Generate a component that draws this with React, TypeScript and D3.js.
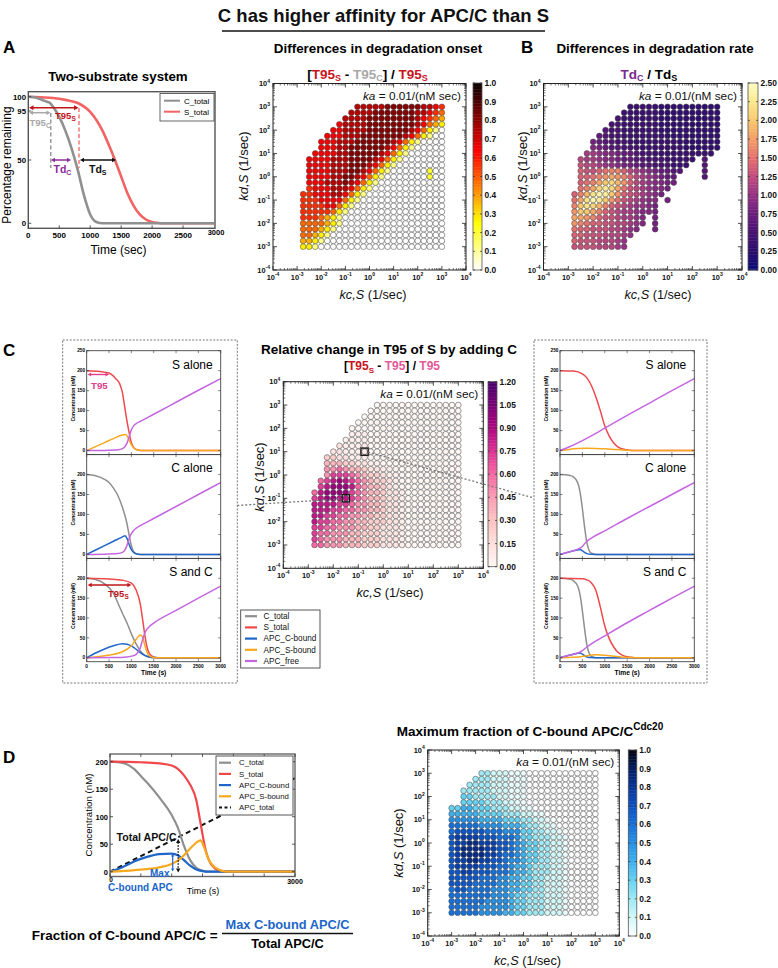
import React from "react";
import * as d3 from "d3";

type Pt = [number, number];

const FONT = "'Liberation Sans', Arial, Helvetica, sans-serif";
const NARROW = "'Liberation Sans Narrow', 'Arial Narrow', 'Liberation Sans', Arial, sans-serif";

// ---------------- grid (log10 of kc,S and kd,S) ----------------
const GRID_LOG10 = [-3, -2.75, -2.5, -2.25, -2, -1.75, -1.5, -1.25, -1, -0.75, -0.5, -0.25, 0, 0.25, 0.5, 0.75, 1, 1.25, 1.5, 1.75, 2, 2.25, 2.5, 2.75, 3];
const DECADES = [-4, -3, -2, -1, 0, 1, 2, 3, 4];
const MINOR_MULT = [2, 3, 4, 5, 6, 7, 8, 9];

// ---------------- Panel A: two-substrate curves ----------------
const A_TIME_TICKS = [0, 500, 1000, 1500, 2000, 2500];
const A_C_TOTAL: Pt[] = [[0, 100], [100, 99.5], [200, 98], [300, 96], [350, 95], [400, 92], [500, 84], [600, 73], [700, 59], [800, 42], [900, 22], [1000, 7], [1100, 1], [1200, 0], [3000, 0]];
const A_S_TOTAL: Pt[] = [[0, 100], [200, 99.5], [400, 99], [600, 97.5], [800, 95], [1000, 88], [1200, 73], [1300, 62], [1400, 50], [1500, 37], [1600, 24], [1700, 14], [1800, 7], [1900, 3], [2000, 1], [2100, 0.3], [2200, 0], [3000, 0]];

// ---------------- Heatmap A: [T95s - T95c]/T95s (rows: kd 10^3 -> 10^-3) ----------------
const A_LEVELS: Record<string, number> = { "0": 0, "1": 0.12, "2": 0.2, "3": 0.28, "4": 0.38, "5": 0.48, "6": 0.57, "7": 0.65, "8": 0.74, "9": 0.82 };
const A_ROWS = [
  "..........888889999998876",
  ".........8888999999988765",
  "........88889999999987654",
  ".......788889999999987543",
  "......7788889999999875310",
  ".....77788899999998753100",
  "....777888999999875310000",
  "....777889999998753100000",
  "...7777889999987531000000",
  "..77778889999875310000000",
  "..77778889998753100000000",
  "..77778889987531000000200",
  "..77778899875310000000200",
  "..77788898753100000000000",
  "..67778887531000000000000",
  ".667778875310000000000000",
  ".666777753100000000000000",
  ".666677531000000000000000",
  ".666665310000000000000000",
  ".666543100000000000000000",
  ".555543100000000000000000",
  ".555431000000000000000000",
  ".554310000000000000000000",
  ".443100000000000000000000",
  ".331000000000000000000000",
];
const A_CB_TICKS = [0, 0.1, 0.2, 0.3, 0.4, 0.5, 0.6, 0.7, 0.8, 0.9, 1.0];

// ---------------- Heatmap B: Tdc/Tds (letter a=0.0 ... z=2.5) ----------------
const B_KEYS = "abcdefghijklmnopqrstuvwxyz";
const B_ROWS = [
  "..........eeeeedddddddddd",
  ".........eeeeeedddddddddd",
  "........feeeeeedddddddddd",
  ".......ffeeeeeedddddddddd",
  "......gffeeeeeedddddddddd",
  ".....hgffeeeeeeeddddddddd",
  "....ihggffeeeeeeeeddddddd",
  "....jihggfffeeeeeeedddddd",
  "...llkjjihhgffeeeeeeeeee.",
  "..mllkjjihhggfffeeeee.g..",
  "..nmmlkkjiihggfffeee..g..",
  "..onnopqqomlkjihhgg...g..",
  "..oopqrsrqomlkjihh....g..",
  "..opqsuvtromlkjjii.......",
  "..pqsvxvspnmlkjji........",
  ".oqtwyxuronmlkji.........",
  ".pswyxurpnmlkjj.i........",
  ".quwvtqonmlkkji..........",
  ".ruusqonmllkjji..........",
  ".ssrqonnmllkj.i..........",
  ".rqpoonnmmlkj.i..........",
  ".poonnnmmlkj..i..........",
  ".oonnnmmmlk..............",
  ".onnnmmmlk...............",
  ".nnnnmmmlk...............",
];
const B_CB_TICKS = [0, 0.25, 0.5, 0.75, 1.0, 1.25, 1.5, 1.75, 2.0, 2.25, 2.5];
const B_STOPS = [0, 0.25, 0.5, 0.75, 1.0, 1.25, 1.5, 1.75, 2.0, 2.25, 2.5];
const B_COLORS = ["#0a0a78", "#2a0c6e", "#461172", "#6a1c7e", "#953085", "#c24a7e", "#e6706e", "#f59c66", "#f8c86c", "#fbe88e", "#fdfcc2"];

// ---------------- Heatmap C: [T95s - T95]/T95 ----------------
const C_LEVELS: Record<string, number> = { "0": 0, a: 0.05, "1": 0.12, "2": 0.24, "3": 0.36, "4": 0.48, "5": 0.6, "6": 0.72, "7": 0.84, "8": 0.96, "9": 1.08 };
const C_ROWS = [
  "...........00000000000000",
  "..........000000000000000",
  ".........0000000000000000",
  "........00000000000000000",
  ".......000000000000000000",
  ".......aaa000000000000000",
  "......aaaa000000000000000",
  ".....1aaaa000000000000000",
  "....11aaaa000000000000000",
  "...2211aaa000000000000000",
  "...3332211aa0000000000000",
  "...445433211aa00000000000",
  "...4666543221aa0000000000",
  "..567876543221a0000000000",
  "..678887543321a0000000000",
  ".57888865433211a000000000",
  ".67887765433211a000000000",
  ".77776654433211a000000000",
  ".77766554433211a000000000",
  ".77665544332211a000000000",
  ".76655443322211a000000000",
  ".66554443322111a000000000",
  ".65544433222111a000000000",
  ".65444333222111a000000000",
  ".55444333222111a000000000",
];
const C_CB_TICKS = [0, 0.15, 0.3, 0.45, 0.6, 0.75, 0.9, 1.05, 1.2];
const C_SQUARES: Pt[] = [[6, 8], [9, 16]];

// ---------------- Heatmap D: max fraction of C-bound APC/C ----------------
const D_LEVELS: Record<string, number> = { "0": 0, a: 0.05, "1": 0.1, "2": 0.2, "3": 0.3, "4": 0.4, "5": 0.5, "6": 0.6, "7": 0.68, "8": 0.76, "9": 0.84 };
const D_ROWS = [
  ".....22111aaa000000000000",
  "....222111aaa000000000000",
  "...2222111aaa000000000000",
  "..22222111aaa000000000000",
  "..33222211aaa000000000000",
  "..333322211aa000000000000",
  "334433322211aa00000000000",
  "44444333322211aa000000000",
  "5555544443332211a00000000",
  "66666555544432211a0000000",
  "677777666555332211a000000",
  "7888877766653322211a00000",
  "7889988877654332211a00000",
  "7899998877654332211a00000",
  "7899998876654332211a00000",
  "7889988776554332211a00000",
  "7888877766544322211a00000",
  "7788777666544322211a00000",
  "7777766655443322111a00000",
  "7777666655443322111a00000",
  "6776666555443322111a00000",
  "6666666555433222111a00000",
  "6666665555433222111a00000",
  "6666655555433222111a00000",
  "6666655554433222111a00000",
];
const D_CB_TICKS = [0, 0.1, 0.2, 0.3, 0.4, 0.5, 0.6, 0.7, 0.8, 0.9, 1.0];
const D_STOPS = [0, 0.1, 0.2, 0.3, 0.4, 0.5, 0.6, 0.7, 0.8, 0.9, 1.0];
const D_COLORS = ["#ffffff", "#d2f7f7", "#9ee9f3", "#66d2f2", "#3fb0ee", "#2590e4", "#1670d8", "#0b50c0", "#06349a", "#041d63", "#02050f"];

// ---------------- Panel C time courses ----------------
const CONC_TICKS = [0, 50, 100, 150, 200];
const TIME_TICKS = [0, 500, 1000, 1500, 2000, 2500, 3000];
// left (kc=10^-1.5, kd=10^-1)
const CL_SA_S: Pt[] = [[0, 200], [300, 198], [500, 194], [650, 180], [740, 167], [800, 145], [850, 110], [900, 75], [950, 45], [1000, 20], [1050, 8], [1100, 3], [1200, 0.5], [1300, 0], [3000, 0]];
const CL_SA_SB: Pt[] = [[0, 0], [200, 10], [400, 20], [600, 30], [800, 39], [870, 40], [920, 34], [960, 24], [1000, 15], [1050, 7], [1100, 3], [1200, 0.5], [1300, 0], [3000, 0]];
const CL_SA_FREE: Pt[] = [[0, 0], [400, 0.5], [700, 2], [800, 5], [850, 9], [900, 18], [950, 35], [1000, 52], [1050, 62], [1100, 67], [1200, 73], [1500, 91], [2000, 121], [2500, 151], [3000, 180]];
const CL_CA_C: Pt[] = [[0, 200], [200, 197], [400, 188], [500, 180], [600, 166], [700, 147], [800, 118], [900, 78], [950, 48], [1000, 22], [1050, 7], [1100, 1.5], [1200, 0], [3000, 0]];
const CL_CA_CB: Pt[] = [[0, 0], [200, 11], [400, 22], [600, 33], [800, 44], [860, 47], [910, 38], [960, 22], [1000, 12], [1050, 5], [1100, 2], [1200, 0], [3000, 0]];
const CL_CA_FREE: Pt[] = [[0, 0], [400, 0.5], [700, 2], [800, 5], [850, 10], [900, 22], [950, 40], [1000, 52], [1050, 60], [1100, 65], [1200, 72], [1500, 90], [2000, 120], [2500, 150], [3000, 180]];
const CL_SC_S: Pt[] = [[0, 200], [500, 198], [800, 195], [1000, 188], [1100, 172], [1200, 135], [1250, 98], [1300, 58], [1350, 27], [1400, 11], [1500, 2], [1600, 0], [3000, 0]];
const CL_SC_C: Pt[] = [[0, 200], [200, 197], [400, 186], [600, 162], [740, 127], [800, 112], [900, 88], [1000, 60], [1100, 36], [1200, 17], [1300, 6], [1400, 1.5], [1500, 0], [3000, 0]];
const CL_SC_CB: Pt[] = [[0, 0], [200, 12], [400, 22], [600, 30], [800, 35], [900, 34], [1000, 30], [1100, 22], [1200, 13], [1300, 6], [1400, 2], [1500, 0.3], [1600, 0], [3000, 0]];
const CL_SC_SB: Pt[] = [[0, 0], [400, 5], [800, 15], [1000, 30], [1100, 45], [1200, 57], [1250, 52], [1300, 32], [1350, 14], [1400, 5], [1500, 0.5], [1600, 0], [3000, 0]];
const CL_SC_FREE: Pt[] = [[0, 0], [600, 0.5], [900, 2], [1000, 4], [1100, 8], [1150, 14], [1200, 25], [1250, 45], [1300, 62], [1350, 72], [1400, 78], [1500, 87], [2000, 119], [2500, 150], [3000, 180]];
// right (kc=10^-0.75, kd=10^1)
const CR_SA_S: Pt[] = [[0, 200], [300, 199], [500, 192], [600, 182], [700, 163], [800, 135], [900, 100], [1000, 62], [1100, 36], [1200, 19], [1300, 9], [1400, 4], [1500, 2], [1600, 0.5], [1700, 0], [3000, 0]];
const CR_SA_SB: Pt[] = [[0, 0], [200, 3], [400, 5], [600, 6], [800, 5.5], [1000, 4.5], [1200, 3], [1400, 1.5], [1600, 0.5], [1800, 0], [3000, 0]];
const CR_SA_FREE: Pt[] = [[0, 0], [200, 9], [500, 25], [800, 43], [1000, 56], [1500, 88], [2000, 119], [2500, 150], [3000, 180]];
const CR_CA_C: Pt[] = [[0, 200], [200, 198], [300, 194], [400, 178], [450, 155], [500, 115], [550, 68], [600, 30], [650, 10], [700, 3], [800, 0], [3000, 0]];
const CR_CA_CB: Pt[] = [[0, 0], [100, 3], [200, 6], [300, 9], [400, 11], [450, 12], [500, 9], [550, 5], [600, 2], [700, 0.3], [800, 0], [3000, 0]];
const CR_CA_FREE: Pt[] = [[0, 0], [200, 6], [400, 13], [500, 20], [550, 27], [600, 33], [700, 41], [1000, 59], [1500, 90], [2000, 120], [2500, 150], [3000, 180]];
const CR_SC_S: Pt[] = [[0, 200], [500, 199], [600, 196], [700, 189], [800, 170], [900, 128], [1000, 80], [1100, 48], [1200, 27], [1300, 13], [1400, 6], [1500, 2.5], [1600, 1], [1700, 0], [3000, 0]];
const CR_SC_C: Pt[] = [[0, 200], [200, 198], [300, 194], [400, 179], [450, 157], [500, 118], [550, 72], [600, 33], [650, 11], [700, 3], [800, 0], [3000, 0]];
const CR_SC_CB: Pt[] = [[0, 0], [100, 3], [200, 6], [300, 9], [400, 11], [450, 12], [500, 9], [550, 5], [600, 2], [700, 0.3], [800, 0], [3000, 0]];
const CR_SC_SB: Pt[] = [[0, 0], [300, 1], [500, 3], [600, 5], [700, 7], [800, 7.5], [900, 7], [1000, 6], [1200, 3.5], [1400, 1.5], [1600, 0.5], [1800, 0], [3000, 0]];
const CR_SC_FREE: Pt[] = [[0, 0], [200, 6], [400, 12], [500, 18], [600, 27], [700, 35], [1000, 55], [1500, 88], [2000, 119], [2500, 150], [3000, 180]];

// ---------------- Panel D time course ----------------
const D_CONC_TICKS = [0, 50, 100, 150, 200];
const D_C_TOTAL: Pt[] = [[0, 200], [200, 198], [400, 186], [500, 174], [600, 162], [800, 135], [1000, 103], [1100, 80], [1200, 47], [1300, 21], [1400, 7], [1500, 2], [1600, 0], [3000, 0]];
const D_S_TOTAL: Pt[] = [[0, 200], [500, 199], [800, 197], [1000, 193], [1100, 187], [1200, 175], [1300, 158], [1400, 130], [1450, 100], [1500, 68], [1550, 40], [1600, 22], [1700, 6], [1800, 1.5], [1900, 0], [3000, 0]];
const D_APC_CB: Pt[] = [[0, 0], [200, 8], [400, 19], [600, 27], [800, 32], [1000, 33], [1100, 30], [1200, 21], [1300, 11], [1400, 4], [1500, 1], [1600, 0], [3000, 0]];
const D_APC_SB: Pt[] = [[0, 0], [400, 3], [800, 8], [1000, 14], [1100, 20], [1200, 30], [1300, 42], [1400, 53], [1470, 57], [1520, 46], [1600, 22], [1700, 8], [1800, 2], [1900, 0], [3000, 0]];
const D_APC_TOTAL: Pt[] = [[0, 0], [3000, 170]];

// ---------------- colours ----------------
const COL = { gray: "#8f8f8f", red: "#f0484b", blue: "#2066c9", orange: "#f6a81e", purple: "#c466e0" };

function hotR(v: number) {
  const x = 1 - Math.max(0, Math.min(1, v));
  const c = (t: number) => Math.max(0, Math.min(1, t));
  const r = c(0.0416 + (x / 0.365) * 0.9584);
  const g = c((x - 0.365) / 0.381);
  const b = c((x - 0.746) / 0.254);
  return d3.rgb(r * 255, g * 255, b * 255).toString();
}
const bColor = d3.scaleLinear<string>().domain(B_STOPS).range(B_COLORS).clamp(true);
const dColor = d3.scaleLinear<string>().domain(D_STOPS).range(D_COLORS).clamp(true);
const cColor = (v: number) => d3.interpolateRdPu(Math.max(0, Math.min(1, v / 1.2)));
const B_LEVELS: Record<string, number> = {};
B_KEYS.split("").forEach((k, idx) => (B_LEVELS[k] = idx * 0.1));

type Box = { x0: number; x1: number; y0: number; y1: number };

function Pow10({ x, y, e, anchor, size }: { x: number; y: number; e: number; anchor: string; size: number }) {
  return (
    <text x={x} y={y} textAnchor={anchor} fontSize={size} fontWeight="bold" fontFamily={FONT} fill="#111">
      10<tspan dy={-size * 0.45} fontSize={size * 0.68}>{e}</tspan>
    </text>
  );
}

function Heatmap({ box, rows, levels, color, squares }: { box: Box; rows: string[]; levels: Record<string, number>; color: (v: number) => string; squares?: Pt[] }) {
  const xs = d3.scaleLog().domain([1e-4, 1e4]).range([box.x0, box.x1]);
  const ys = d3.scaleLog().domain([1e-4, 1e4]).range([box.y1, box.y0]);
  const r = Math.min((box.x1 - box.x0) / 32, (box.y1 - box.y0) / 32) * 0.5 - 0.05;
  const cells: any[] = [];
  rows.forEach((row, ri) => {
    const j = 24 - ri;
    for (let i = 0; i < row.length && i < 25; i++) {
      const ch = row[i];
      if (ch === ".") continue;
      const v = levels[ch] ?? 0;
      cells.push(
        <circle key={`${ri}-${i}`} cx={xs(Math.pow(10, GRID_LOG10[i]))} cy={ys(Math.pow(10, GRID_LOG10[j]))} r={r} fill={color(v)} stroke="#4a4a4a" strokeWidth={0.55} />
      );
    }
  });
  const minors: number[] = [];
  DECADES.slice(0, -1).forEach((k) => MINOR_MULT.forEach((m) => minors.push(m * Math.pow(10, k))));
  const majors = DECADES.map((k) => Math.pow(10, k));
  return (
    <g>
      {cells}
      {squares &&
        squares.map(([i, j], k) => (
          <rect key={k} x={xs(Math.pow(10, GRID_LOG10[i])) - 3.6} y={ys(Math.pow(10, GRID_LOG10[j])) - 3.6} width={7.2} height={7.2} fill="none" stroke="#111" strokeWidth={1.3} />
        ))}
      <rect x={box.x0} y={box.y0} width={box.x1 - box.x0} height={box.y1 - box.y0} fill="none" stroke="#222" strokeWidth={1} />
      {majors.map((v, k) => (
        <g key={"M" + k} stroke="#222" strokeWidth={0.8}>
          <line x1={xs(v)} x2={xs(v)} y1={box.y1} y2={box.y1 - 4} />
          <line x1={xs(v)} x2={xs(v)} y1={box.y0} y2={box.y0 + 4} />
          <line x1={box.x0} x2={box.x0 + 4} y1={ys(v)} y2={ys(v)} />
          <line x1={box.x1} x2={box.x1 - 4} y1={ys(v)} y2={ys(v)} />
        </g>
      ))}
      {minors.map((v, k) => (
        <g key={"m" + k} stroke="#222" strokeWidth={0.6}>
          <line x1={xs(v)} x2={xs(v)} y1={box.y1} y2={box.y1 - 2} />
          <line x1={xs(v)} x2={xs(v)} y1={box.y0} y2={box.y0 + 2} />
          <line x1={box.x0} x2={box.x0 + 2} y1={ys(v)} y2={ys(v)} />
          <line x1={box.x1} x2={box.x1 - 2} y1={ys(v)} y2={ys(v)} />
        </g>
      ))}
      {DECADES.map((e) => (
        <Pow10 key={"xl" + e} x={xs(Math.pow(10, e))} y={box.y1 + 9.5} e={e} anchor="middle" size={7.4} />
      ))}
      {DECADES.map((e) => (
        <Pow10 key={"yl" + e} x={box.x0 - 3} y={ys(Math.pow(10, e)) + 2.5} e={e} anchor="end" size={7.4} />
      ))}
      <text x={box.x1 - 5} y={box.y0 + 16} textAnchor="end" fontSize={11.8} fontFamily={FONT} fill="#111">
        <tspan fontStyle="italic">ka</tspan> = 0.01/(nM sec)
      </text>
    </g>
  );
}

function Colorbar({ x, w, y0, y1, max, color, ticks, digits }: { x: number; w: number; y0: number; y1: number; max: number; color: (v: number) => string; ticks: number[]; digits: number }) {
  const s = d3.scaleLinear().domain([0, max]).range([y1, y0]);
  const n = 120;
  const segs = d3.range(n).map((k) => {
    const v0 = (k / n) * max;
    const v1 = ((k + 1) / n) * max;
    return <rect key={k} x={x} y={s(v1)} width={w} height={s(v0) - s(v1) + 0.4} fill={color((v0 + v1) / 2)} />;
  });
  return (
    <g>
      {segs}
      <rect x={x} y={y0} width={w} height={y1 - y0} fill="none" stroke="#555" strokeWidth={0.8} />
      {ticks.map((t, k) => (
        <g key={k}>
          <line x1={x} x2={x + 2} y1={s(t)} y2={s(t)} stroke="#333" strokeWidth={0.7} />
          <line x1={x + w - 2} x2={x + w} y1={s(t)} y2={s(t)} stroke="#333" strokeWidth={0.7} />
          <text x={x + w + 2.5} y={s(t) + 3} fontSize={8.4} fontWeight="bold" fontFamily={FONT} fill="#111">
            {t.toFixed(digits)}
          </text>
        </g>
      ))}
    </g>
  );
}

function AxisLabels({ cx, cy, ylabX, ylabY }: { cx: number; cy: number; ylabX: number; ylabY: number }) {
  return (
    <g fontFamily={FONT} fill="#111">
      <text x={cx} y={cy} textAnchor="middle" fontSize={12.7}>
        <tspan fontStyle="italic">kc,S</tspan> (1/sec)
      </text>
      <text transform={`translate(${ylabX},${ylabY}) rotate(-90)`} textAnchor="middle" fontSize={13}>
        <tspan fontStyle="italic">kd,S</tspan> (1/sec)
      </text>
    </g>
  );
}

function DArrow({ x1, y1, x2, y2, color, w = 1.5, h = 4, dash }: { x1: number; y1: number; x2: number; y2: number; color: string; w?: number; h?: number; dash?: string }) {
  const a = Math.atan2(y2 - y1, x2 - x1);
  const head = (x: number, y: number, ang: number) => {
    const bx = x - h * Math.cos(ang);
    const by = y - h * Math.sin(ang);
    const px = h * 0.55 * Math.sin(ang);
    const py = h * 0.55 * Math.cos(ang);
    return <polygon points={`${x},${y} ${bx + px},${by - py} ${bx - px},${by + py}`} fill={color} />;
  };
  return (
    <g>
      <line x1={x1 + Math.cos(a) * h * 0.8} y1={y1 + Math.sin(a) * h * 0.8} x2={x2 - Math.cos(a) * h * 0.8} y2={y2 - Math.sin(a) * h * 0.8} stroke={color} strokeWidth={w} strokeDasharray={dash} />
      {head(x2, y2, a)}
      {head(x1, y1, a + Math.PI)}
    </g>
  );
}

function TwoSubstrate() {
  const x = d3.scaleLinear().domain([0, 3000]).range([28.3, 214]);
  const y = d3.scaleLinear().domain([0, 100]).range([223.3, 96.7]);
  const line = d3.line<Pt>().x((d) => x(d[0])).y((d) => y(d[1])).curve(d3.curveMonotoneX);
  const f = { x0: 28.3, x1: 215, y0: 91.7, y1: 228.3 };
  const yt: [string, number][] = [["0", y(0)], ["50", y(50)], ["95", 111], ["100", y(100)]];
  return (
    <g fontFamily={FONT}>
      <text x={118} y={81} textAnchor="middle" fontSize={13.3} fontWeight="bold">Two-substrate system</text>
      <path d={line(A_S_TOTAL) || ""} fill="none" stroke="#f26363" strokeWidth={2.6} />
      <path d={line(A_C_TOTAL) || ""} fill="none" stroke="#909090" strokeWidth={2.6} />
      <rect x={f.x0} y={f.y0} width={f.x1 - f.x0} height={f.y1 - f.y0} fill="none" stroke="#555" strokeWidth={1.4} />
      {A_TIME_TICKS.map((t) => (
        <g key={t}>
          <line x1={x(t)} x2={x(t)} y1={f.y1} y2={f.y1 - 3} stroke="#333" strokeWidth={0.8} />
          <text x={x(t)} y={237.5} textAnchor="middle" fontSize={8} fontWeight="bold">{t}</text>
        </g>
      ))}
      <text x={216} y={235} textAnchor="middle" fontSize={7.5} fontWeight="bold">3000</text>
      {yt.map(([l, py]) => (
        <g key={l}>
          <line x1={f.x0} x2={f.x0 + 3} y1={py} y2={py} stroke="#333" strokeWidth={0.8} />
          <text x={26} y={py + 2.8} textAnchor="end" fontSize={7.8} fontWeight="bold">{l}</text>
        </g>
      ))}
      <text transform="translate(10.5,165) rotate(-90)" textAnchor="middle" fontSize={12}>Percentage remaining</text>
      <text x={118.5} y={253.5} textAnchor="middle" fontSize={12}>Time (sec)</text>
      {/* legend */}
      <rect x={160} y={93.5} width={54} height={27.5} fill="white" stroke="#555" strokeWidth={0.9} />
      <line x1={164} x2={180} y1={100.7} y2={100.7} stroke="#909090" strokeWidth={2} />
      <text x={184} y={103.5} fontSize={8}>C_total</text>
      <line x1={164} x2={180} y1={111.7} y2={111.7} stroke="#f26363" strokeWidth={2} />
      <text x={184} y={114.5} fontSize={8}>S_total</text>
      {/* annotations */}
      <DArrow x1={29} y1={107.7} x2={78.5} y2={107.7} color="#c0151a" w={1.5} h={4.5} />
      <DArrow x1={29} y1={112.7} x2={50.5} y2={112.7} color="#a8a8a8" w={1.5} h={4} />
      <line x1={50.8} x2={50.8} y1={113} y2={168} stroke="#8a8a8a" strokeWidth={1.3} strokeDasharray="4,2.5" />
      <line x1={79} x2={79} y1={108} y2={168} stroke="#f26363" strokeWidth={1.3} strokeDasharray="4,2.5" />
      <DArrow x1={51} y1={160} x2={71} y2={160} color="#8b2c9a" w={1.5} h={4} />
      <DArrow x1={80} y1={160} x2={116} y2={160} color="#111" w={1.5} h={4} />
      <text x={55} y={119} fontSize={9.5} fontWeight="bold" fill="#c0151a">T95<tspan fontSize={6.5} dy={2}>S</tspan></text>
      <text x={29.5} y={126} fontSize={9.5} fontWeight="bold" fill="#a8a8a8">T95<tspan fontSize={6.5} dy={2}>C</tspan></text>
      <text x={53.5} y={172.5} fontSize={10.5} fontWeight="bold" fill="#8b2c9a">Td<tspan fontSize={7} dy={2}>C</tspan></text>
      <text x={89} y={172.5} fontSize={10.5} fontWeight="bold" fill="#111">Td<tspan fontSize={7} dy={2}>S</tspan></text>
    </g>
  );
}

type Series = { pts: Pt[]; color: string };
function ConcPlot({ x0, x1, y0, y1, series, title, top, bottom }: { x0: number; x1: number; y0: number; y1: number; series: Series[]; title: string; top: boolean; bottom: boolean }) {
  const xs = d3.scaleLinear().domain([0, 3000]).range([x0, x1]);
  const ys = d3.scaleLinear().domain([-10, 250]).range([y1, y0]);
  const line = d3.line<Pt>().x((d) => xs(d[0])).y((d) => ys(d[1])).curve(d3.curveMonotoneX);
  const yticks = top ? [...CONC_TICKS, 250] : CONC_TICKS;
  return (
    <g fontFamily={FONT}>
      {series.map((s, k) => (
        <path key={k} d={line(s.pts) || ""} fill="none" stroke={s.color} strokeWidth={1.5} />
      ))}
      <rect x={x0} y={y0} width={x1 - x0} height={y1 - y0} fill="none" stroke="#444" strokeWidth={0.9} />
      {TIME_TICKS.map((t) => (
        <g key={t} stroke="#333" strokeWidth={0.6}>
          <line x1={xs(t)} x2={xs(t)} y1={y1} y2={y1 - 2.5} />
          <line x1={xs(t)} x2={xs(t)} y1={y0} y2={y0 + 2.5} />
        </g>
      ))}
      {yticks.map((v) => (
        <g key={v}>
          <line x1={x0} x2={x0 + 2.5} y1={ys(v)} y2={ys(v)} stroke="#333" strokeWidth={0.6} />
          <line x1={x1} x2={x1 - 2.5} y1={ys(v)} y2={ys(v)} stroke="#333" strokeWidth={0.6} />
          <text x={x0 - 1.5} y={ys(v) + 1.7} textAnchor="end" fontSize={4.8} fontWeight="bold">{v}</text>
        </g>
      ))}
      <text transform={`translate(${x0 - 12},${(y0 + y1) / 2 - 4}) rotate(-90)`} textAnchor="middle" fontSize={5} fontWeight="bold">Concentration (nM)</text>
      <text x={x1 - 8} y={y0 + 17.8} textAnchor="end" fontSize={12}>{title}</text>
      {bottom && (
        <g>
          {TIME_TICKS.map((t) => (
            <text key={t} x={xs(t)} y={y1 + 6.5} textAnchor="middle" fontSize={4.8} fontWeight="bold">{t}</text>
          ))}
          <text x={(x0 + x1) / 2} y={y1 + 13.5} textAnchor="middle" fontSize={6.6} fontWeight="bold">Time (s)</text>
        </g>
      )}
    </g>
  );
}

const ROWS_Y = [350.7, 454.6, 558.4, 661.7];

function PanelCLeft() {
  const x0 = 86.7, x1 = 220.7;
  const xs = d3.scaleLinear().domain([0, 3000]).range([x0, x1]);
  return (
    <g>
      <rect x={62.7} y={340} width={174.6} height={343} fill="none" stroke="#777" strokeWidth={1} strokeDasharray="2,1.5" />
      <ConcPlot x0={x0} x1={x1} y0={ROWS_Y[0]} y1={ROWS_Y[1]} title="S alone" top={true} bottom={false}
        series={[{ pts: CL_SA_S, color: COL.red }, { pts: CL_SA_SB, color: COL.orange }, { pts: CL_SA_FREE, color: COL.purple }]} />
      <ConcPlot x0={x0} x1={x1} y0={ROWS_Y[1]} y1={ROWS_Y[2]} title="C alone" top={false} bottom={false}
        series={[{ pts: CL_CA_C, color: COL.gray }, { pts: CL_CA_CB, color: COL.blue }, { pts: CL_CA_FREE, color: COL.purple }]} />
      <ConcPlot x0={x0} x1={x1} y0={ROWS_Y[2]} y1={ROWS_Y[3]} title="S and C" top={false} bottom={true}
        series={[{ pts: CL_SC_C, color: COL.gray }, { pts: CL_SC_S, color: COL.red }, { pts: CL_SC_CB, color: COL.blue }, { pts: CL_SC_SB, color: COL.orange }, { pts: CL_SC_FREE, color: COL.purple }]} />
      <DArrow x1={xs(0) + 1} y1={374.5} x2={xs(500)} y2={374.5} color="#e0408a" w={1.4} h={3.5} />
      <text x={91} y={388.5} fontSize={9.7} fontWeight="bold" fill="#e0408a" fontFamily={FONT}>T95</text>
      <DArrow x1={xs(0) + 1} y1={585} x2={xs(1000)} y2={585} color="#c0151a" w={1.5} h={4} />
      <text x={108} y={596.5} fontSize={9.5} fontWeight="bold" fill="#c0151a" fontFamily={FONT}>T95<tspan fontSize={6.3} dy={2}>S</tspan></text>
    </g>
  );
}

function PanelCRight() {
  const x0 = 560, x1 = 694.3;
  return (
    <g>
      <rect x={534} y={340} width={173} height={343} fill="none" stroke="#777" strokeWidth={1} strokeDasharray="2,1.5" />
      <ConcPlot x0={x0} x1={x1} y0={ROWS_Y[0]} y1={ROWS_Y[1]} title="S alone" top={true} bottom={false}
        series={[{ pts: CR_SA_S, color: COL.red }, { pts: CR_SA_SB, color: COL.orange }, { pts: CR_SA_FREE, color: COL.purple }]} />
      <ConcPlot x0={x0} x1={x1} y0={ROWS_Y[1]} y1={ROWS_Y[2]} title="C alone" top={false} bottom={false}
        series={[{ pts: CR_CA_C, color: COL.gray }, { pts: CR_CA_CB, color: COL.blue }, { pts: CR_CA_FREE, color: COL.purple }]} />
      <ConcPlot x0={x0} x1={x1} y0={ROWS_Y[2]} y1={ROWS_Y[3]} title="S and C" top={false} bottom={true}
        series={[{ pts: CR_SC_C, color: COL.gray }, { pts: CR_SC_S, color: COL.red }, { pts: CR_SC_CB, color: COL.blue }, { pts: CR_SC_SB, color: COL.orange }, { pts: CR_SC_FREE, color: COL.purple }]} />
    </g>
  );
}

function Legend({ x, y, w, h, items, fs, lx0, lx1, tx, r0, step }: { x: number; y: number; w: number; h: number; items: { label: string; color: string; dash?: string }[]; fs: number; lx0: number; lx1: number; tx: number; r0: number; step: number }) {
  return (
    <g fontFamily={FONT}>
      <rect x={x} y={y} width={w} height={h} fill="white" stroke="#444" strokeWidth={0.9} />
      {items.map((it, k) => (
        <g key={k}>
          <line x1={lx0} x2={lx1} y1={r0 + k * step} y2={r0 + k * step} stroke={it.color} strokeWidth={2.2} strokeDasharray={it.dash} />
          <text x={tx} y={r0 + k * step + fs * 0.35} fontSize={fs} fill="#111">{it.label}</text>
        </g>
      ))}
    </g>
  );
}

function PanelDLeft() {
  const f = { x0: 110, x1: 295, y0: 754, y1: 876.5 };
  const xs = d3.scaleLinear().domain([0, 3000]).range([f.x0, f.x1]);
  const ys = d3.scaleLinear().domain([0, 200]).range([871.7, 761.7]);
  const line = d3.line<Pt>().x((d) => xs(d[0])).y((d) => ys(d[1])).curve(d3.curveMonotoneX);
  return (
    <g fontFamily={FONT}>
      <defs>
        <clipPath id="dclip"><rect x={f.x0} y={f.y0} width={f.x1 - f.x0} height={f.y1 - f.y0} /></clipPath>
      </defs>
      <g clipPath="url(#dclip)">
        <path d={line(D_APC_TOTAL) || ""} fill="none" stroke="#111" strokeWidth={2} strokeDasharray="5,3.5" />
        <path d={line(D_C_TOTAL) || ""} fill="none" stroke={COL.gray} strokeWidth={2.2} />
        <path d={line(D_S_TOTAL) || ""} fill="none" stroke={COL.red} strokeWidth={2.2} />
        <path d={line(D_APC_CB) || ""} fill="none" stroke={COL.blue} strokeWidth={2.2} />
        <path d={line(D_APC_SB) || ""} fill="none" stroke={COL.orange} strokeWidth={2.2} />
      </g>
      <rect x={f.x0} y={f.y0} width={f.x1 - f.x0} height={f.y1 - f.y0} fill="none" stroke="#666" strokeWidth={1.4} />
      {TIME_TICKS.map((t) => (
        <g key={t} stroke="#333" strokeWidth={0.8}>
          <line x1={xs(t)} x2={xs(t)} y1={f.y0} y2={f.y0 + 3} />
          <line x1={xs(t)} x2={xs(t)} y1={f.y1} y2={f.y1 - 3} />
        </g>
      ))}
      {D_CONC_TICKS.map((v) => (
        <g key={v}>
          <line x1={f.x0} x2={f.x0 + 3} y1={ys(v)} y2={ys(v)} stroke="#333" strokeWidth={0.8} />
          <line x1={f.x1} x2={f.x1 - 3} y1={ys(v)} y2={ys(v)} stroke="#333" strokeWidth={0.8} />
          <text x={f.x0 - 2} y={ys(v) + 3} textAnchor="end" fontSize={7.5} fontWeight="bold">{v}</text>
        </g>
      ))}
      <text transform="translate(92,815) rotate(-90)" textAnchor="middle" fontSize={9.7}>Concentration (nM)</text>
      <text x={f.x0 + 1} y={882} textAnchor="middle" fontSize={6.5} fontWeight="bold">0</text>
      <text x={f.x1} y={884} textAnchor="middle" fontSize={7} fontWeight="bold">3000</text>
      <text x={203} y={894} textAnchor="middle" fontSize={9}>Time (s)</text>
      <Legend x={216} y={756} w={77} h={59} fs={7.8} lx0={219} lx1={231} tx={239} r0={762.7} step={11.2}
        items={[{ label: "C_total", color: COL.gray }, { label: "S_total", color: COL.red }, { label: "APC_C-bound", color: COL.blue }, { label: "APC_S-bound", color: COL.orange }, { label: "APC_total", color: "#111", dash: "3,2.5" }]} />
      <text x={116.5} y={840.5} fontSize={10.6} fontWeight="bold" fill="#111">Total APC/C</text>
      <DArrow x1={178.2} y1={839} x2={178.2} y2={872.5} color="#111" w={1.4} h={4} dash="1.5,1.5" />
      <DArrow x1={172.7} y1={853.5} x2={172.7} y2={871.5} color="#2066c9" w={1.2} h={3} />
      <text x={150} y={877} fontSize={10} fontWeight="bold" fill="#2066c9">Max</text>
      <text x={108} y={891} fontSize={10} fontWeight="bold" fill="#2066c9">C-bound APC</text>
    </g>
  );
}

export default function App() {
  const A_BOX = { x0: 273, x1: 466, y0: 83.5, y1: 270 };
  const B_BOX = { x0: 543.5, x1: 742, y0: 83.5, y1: 270 };
  const C_BOX = { x0: 283.3, x1: 483.3, y0: 381.7, y1: 568.3 };
  const D_BOX = { x0: 427.7, x1: 619.3, y0: 750, y1: 936 };
  const cx = d3.scaleLog().domain([1e-4, 1e4]).range([C_BOX.x0, C_BOX.x1]);
  const cy = d3.scaleLog().domain([1e-4, 1e4]).range([C_BOX.y1, C_BOX.y0]);
  const sq1: Pt = [cx(Math.pow(10, GRID_LOG10[C_SQUARES[0][0]])), cy(Math.pow(10, GRID_LOG10[C_SQUARES[0][1]]))];
  const sq2: Pt = [cx(Math.pow(10, GRID_LOG10[C_SQUARES[1][0]])), cy(Math.pow(10, GRID_LOG10[C_SQUARES[1][1]]))];
  const red = "#c8141c";
  const pink = "#e45a9a";
  return (
    <svg width={778} height={968} viewBox="0 0 778 968" style={{ position: "absolute", left: 0, top: 0, background: "white" }} fontFamily={FONT}>
      <rect x={0} y={0} width={778} height={968} fill="white" />
      {/* main title */}
      <text x={383.5} y={22} textAnchor="middle" fontSize={18.5} fontWeight="bold" fontFamily={NARROW} fill="#111">C has higher affinity for APC/C than S</text>
      <line x1={222} x2={545} y1={31} y2={31} stroke="#111" strokeWidth={1.6} />

      {/* panel letters */}
      <text x={3} y={53} fontSize={17} fontWeight="bold">A</text>
      <text x={521} y={53} fontSize={17} fontWeight="bold">B</text>
      <text x={3} y={356} fontSize={17} fontWeight="bold">C</text>
      <text x={3} y={763} fontSize={17} fontWeight="bold">D</text>

      <TwoSubstrate />

      {/* heatmap A */}
      <text x={378} y={53} textAnchor="middle" fontSize={13.4} fontWeight="bold">Differences in degradation onset</text>
      <text x={367.5} y={78.5} textAnchor="middle" fontSize={13.5} fontWeight="bold">
        [<tspan fill={red}>T95</tspan><tspan fill={red} fontSize={9} dy={2.8}>S</tspan><tspan dy={-2.8}> - </tspan><tspan fill="#a9a9a9">T95</tspan><tspan fill="#a9a9a9" fontSize={9} dy={2.8}>C</tspan><tspan dy={-2.8}>] / </tspan><tspan fill={red}>T95</tspan><tspan fill={red} fontSize={9} dy={2.8}>S</tspan>
      </text>
      <Heatmap box={A_BOX} rows={A_ROWS} levels={A_LEVELS} color={hotR} />
      <Colorbar x={473} w={9} y0={83} y1={270} max={1} color={hotR} ticks={A_CB_TICKS} digits={1} />
      <AxisLabels cx={373} cy={299} ylabX={247.5} ylabY={166} />

      {/* heatmap B */}
      <text x={655} y={53} textAnchor="middle" fontSize={13.4} fontWeight="bold">Differences in degradation rate</text>
      <text x={649} y={78.5} textAnchor="middle" fontSize={13.5} fontWeight="bold">
        <tspan fill="#7b2a8e">Td</tspan><tspan fill="#7b2a8e" fontSize={9} dy={2.8}>C</tspan><tspan dy={-2.8}> / Td</tspan><tspan fontSize={9} dy={2.8}>S</tspan>
      </text>
      <Heatmap box={B_BOX} rows={B_ROWS} levels={B_LEVELS} color={(v) => bColor(v)} />
      <Colorbar x={748} w={10} y0={83} y1={270} max={2.5} color={(v) => bColor(v)} ticks={B_CB_TICKS} digits={2} />
      <AxisLabels cx={658} cy={299} ylabX={526.5} ylabY={166} />

      {/* panel C */}
      <PanelCLeft />
      <PanelCRight />
      <text x={389} y={354} textAnchor="middle" fontSize={13.5} fontWeight="bold">Relative change in T95 of S by adding C</text>
      <text x={392} y={370} textAnchor="middle" fontSize={12} fontWeight="bold">
        [<tspan fill={red}>T95</tspan><tspan fill={red} fontSize={8} dy={2.5}>S</tspan><tspan dy={-2.5}> - </tspan><tspan fill={pink}>T95</tspan>] / <tspan fill={pink}>T95</tspan>
      </text>
      <Heatmap box={C_BOX} rows={C_ROWS} levels={C_LEVELS} color={cColor} squares={C_SQUARES} />
      <Colorbar x={488} w={9} y0={381.7} y1={566.7} max={1.2} color={cColor} ticks={C_CB_TICKS} digits={2} />
      <AxisLabels cx={390} cy={597} ylabX={263.5} ylabY={477} />
      <line x1={237.3} y1={505.5} x2={sq1[0] - 3.6} y2={sq1[1] + 0.5} stroke="#777" strokeWidth={1.3} strokeDasharray="2,2" />
      <line x1={sq2[0] + 3.6} y1={sq2[1] + 0.5} x2={534} y2={498} stroke="#777" strokeWidth={1.3} strokeDasharray="2,2" />
      <Legend x={240.7} y={610} w={79.3} h={58} fs={8.2} lx0={245} lx1={257} tx={263.5} r0={616.2} step={11.2}
        items={[{ label: "C_total", color: COL.gray }, { label: "S_total", color: COL.red }, { label: "APC_C-bound", color: COL.blue }, { label: "APC_S-bound", color: COL.orange }, { label: "APC_free", color: COL.purple }]} />

      {/* panel D */}
      <PanelDLeft />
      <text x={31.7} y={940} fontSize={13.5} fontWeight="bold">Fraction of C-bound APC/C =</text>
      <text x={287.5} y={929} textAnchor="middle" fontSize={12.8} fontWeight="bold" fill="#2066c9">Max C-bound APC/C</text>
      <line x1={222} x2={353} y1={933.5} y2={933.5} stroke="#111" strokeWidth={1.5} />
      <text x={287.5} y={948} textAnchor="middle" fontSize={12.8} fontWeight="bold">Total APC/C</text>

      <text x={396.7} y={736} fontSize={13.5} fontWeight="bold">Maximum fraction of C-bound APC/C<tspan fontSize={10} dy={-6}>Cdc20</tspan></text>
      <Heatmap box={D_BOX} rows={D_ROWS} levels={D_LEVELS} color={(v) => dColor(v)} />
      <Colorbar x={628.3} w={8.5} y0={750} y1={936} max={1} color={(v) => dColor(v)} ticks={D_CB_TICKS} digits={1} />
      <AxisLabels cx={527.5} cy={965} ylabX={402.5} ylabY={843} />
    </svg>
  );
}
